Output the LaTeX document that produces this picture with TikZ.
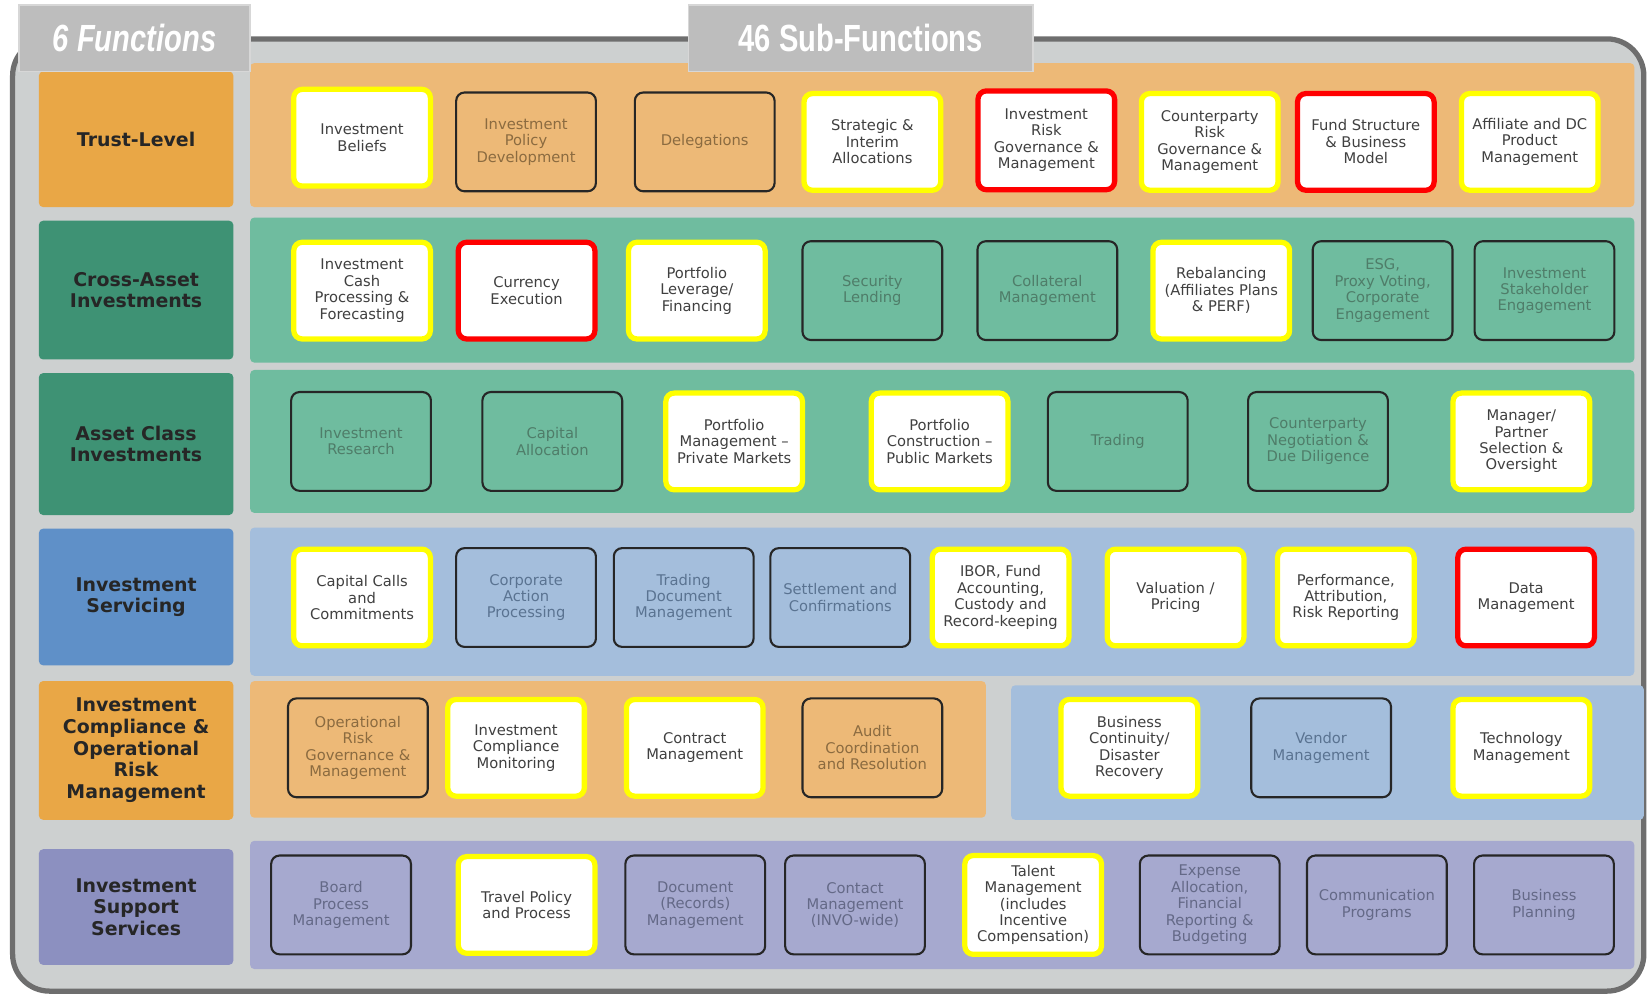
\documentclass[tikz,border=0pt]{standalone}
\usepackage{fontspec}
\setmainfont{DejaVu Sans}
\newfontfamily\tabfont[FakeStretch=0.77]{Liberation Sans}
\usepackage{tikz}
\definecolor{Frame}{HTML}{6E6E6E}
\definecolor{FrameFill}{HTML}{CDD0D0}
\definecolor{Tab}{HTML}{BDBDBD}
\definecolor{OrangeBand}{HTML}{EDB977}
\definecolor{OrangeHead}{HTML}{E9A746}
\definecolor{OrangeInk}{HTML}{8B6B40}
\definecolor{GreenBand}{HTML}{6FBC9F}
\definecolor{GreenHead}{HTML}{3E9274}
\definecolor{GreenInk}{HTML}{4F7D69}
\definecolor{BlueBand}{HTML}{A4BEDC}
\definecolor{BlueHead}{HTML}{5F90C8}
\definecolor{BlueInk}{HTML}{5A7391}
\definecolor{PurpleBand}{HTML}{A6A9CF}
\definecolor{PurpleHead}{HTML}{8C90C0}
\definecolor{PurpleInk}{HTML}{646987}
\definecolor{HiYellow}{HTML}{FFFF00}
\definecolor{HiRed}{HTML}{FF0000}
\definecolor{Ink}{HTML}{404040}
\definecolor{HeadInk}{HTML}{262626}

\begin{document}
\begin{tikzpicture}[x=1pt,y=-1pt,
    head/.style={rounded corners=4pt,inner sep=0pt,minimum width=185pt,align=center,
      font=\fontsize{18}{20.6}\selectfont\bfseries,text=HeadInk},
    sub/.style={rounded corners=8pt,inner sep=0pt,align=center,
      font=\fontsize{14}{15.6}\selectfont},
    keybox/.style={sub,fill=white,draw=HiYellow,line width=5pt,text=Ink,
      minimum width=130pt,minimum height=92pt},
    riskbox/.style={keybox,draw=HiRed},
    idlebox/.style={sub,draw=black!85,line width=2pt,minimum width=133pt,minimum height=94pt},
    orng/.style={idlebox,fill=OrangeBand,text=OrangeInk},
    grn/.style={idlebox,fill=GreenBand,text=GreenInk},
    blu/.style={idlebox,fill=BlueBand,text=BlueInk},
    prpl/.style={idlebox,fill=PurpleBand,text=PurpleInk},
    tabbox/.style={fill=Tab,draw=Tab!60!white,line width=1.5pt,inner sep=0pt,
      text=white,font=\tabfont\fontsize{36}{40}\selectfont\bfseries}]
  \useasboundingbox (0,0) rectangle (1568,946);
  % frame
  \draw[Frame,line width=5pt,fill=FrameFill,rounded corners=35pt] (12,37) rectangle (1564,943);
  % bands
  \fill[OrangeBand,rounded corners=4pt] (238,60) rectangle (1555,197);
  \fill[GreenBand,rounded corners=4pt] (238,207) rectangle (1555,345);
  \fill[GreenBand,rounded corners=4pt] (238,352) rectangle (1555,488);
  \fill[BlueBand,rounded corners=4pt] (238,502) rectangle (1555,643);
  \fill[OrangeBand,rounded corners=4pt] (238,648) rectangle (938,778);
  \fill[BlueBand,rounded corners=4pt] (962,652) rectangle (1564,780);
  \fill[PurpleBand,rounded corners=4pt] (238,800) rectangle (1555,922);
  % functions
  \node[head,fill=OrangeHead,minimum height=129pt] (trust) at (129.5,132.5) {Trust-Level};
  \node[head,fill=GreenHead,minimum height=132pt] (cross) at (129.5,276) {Cross-Asset\\Investments};
  \node[head,fill=GreenHead,minimum height=135pt] (asset) at (129.5,422.5) {Asset Class\\Investments};
  \node[head,fill=BlueHead,minimum height=130pt] (serv) at (129.5,568) {Investment\\Servicing};
  \node[head,fill=OrangeHead,minimum height=132pt] (comp) at (129.5,714) {Investment\\Compliance \&\\Operational\\Risk\\Management};
  \node[head,fill=PurpleHead,minimum height=110pt] (supp) at (129.5,863) {Investment\\Support\\Services};
  % tabs
  \node[tabbox,minimum width=220pt,minimum height=63pt] (tabfun) at (128,36.5) {\itshape 6 Functions};
  \node[tabbox,minimum width=328pt,minimum height=63pt] (tabsub) at (819,36.5) {46 Sub-Functions};
  % trust-level
  \node[keybox] (inv-beliefs) at (344.5,131) {Investment\\Beliefs};
  \node[orng] (inv-policy) at (500.5,135) {Investment\\Policy\\Development};
  \node[orng] (delegations) at (670.5,135) {Delegations};
  \node[keybox] (strategic) at (830,135) {Strategic \&\\Interim\\Allocations};
  \node[riskbox,minimum height=94pt] (inv-risk) at (995.5,133.5) {Investment\\Risk\\Governance \&\\Management};
  \node[keybox] (cp-risk) at (1151,135) {Counterparty\\Risk\\Governance \&\\Management};
  \node[riskbox] (fund) at (1299.5,135) {Fund Structure\\\& Business\\Model};
  \node[keybox] (affiliate) at (1455.5,135) {Affiliate and DC\\Product\\Management};
  % cross-asset
  \node[keybox] (cash) at (344.5,276.5) {Investment\\Cash\\Processing \&\\Forecasting};
  \node[riskbox] (currency) at (501,276.5) {Currency\\Execution};
  \node[keybox] (leverage) at (663,276.5) {Portfolio\\Leverage/\\Financing};
  \node[grn] (seclend) at (830,276.5) {Security\\Lending};
  \node[grn] (collateral) at (996.5,276.5) {Collateral\\Management};
  \node[keybox] (rebal) at (1162,276.5) {Rebalancing\\(Affiliates Plans\\\& PERF)};
  \node[grn] (esg) at (1315.5,276.5) {ESG,\\Proxy Voting,\\Corporate\\Engagement};
  \node[grn] (stake) at (1469.5,276.5) {Investment\\Stakeholder\\Engagement};
  % asset class
  \node[grn] (research) at (343.5,420) {Investment\\Research};
  \node[grn] (capalloc) at (525.5,420) {Capital\\Allocation};
  \node[keybox] (pm-priv) at (698.5,420) {Portfolio\\Management –\\Private Markets};
  \node[keybox] (pc-pub) at (894,420) {Portfolio\\Construction –\\Public Markets};
  \node[grn] (trading) at (1063.5,420) {Trading};
  \node[grn] (cp-neg) at (1254,420) {Counterparty\\Negotiation \&\\Due Diligence};
  \node[keybox] (manager) at (1447.5,420) {Manager/\\Partner\\Selection \&\\Oversight};
  % servicing
  \node[keybox] (capcalls) at (344.5,568.5) {Capital Calls\\and\\Commitments};
  \node[blu] (corpact) at (500.5,568.5) {Corporate\\Action\\Processing};
  \node[blu] (tradedoc) at (650.5,568.5) {Trading\\Document\\Management};
  \node[blu] (settle) at (799.5,568.5) {Settlement and\\Confirmations};
  \node[keybox] (ibor) at (952,568.5) {IBOR, Fund\\Accounting,\\Custody and\\Record-keeping};
  \node[keybox] (valuation) at (1118.5,568.5) {Valuation /\\Pricing};
  \node[keybox] (perf) at (1280.5,568.5) {Performance,\\Attribution,\\Risk Reporting};
  \node[riskbox] (data) at (1452,568.5) {Data\\Management};
  % compliance
  \node[orng] (oprisk) at (340.5,711.5) {Operational\\Risk\\Governance \&\\Management};
  \node[keybox] (compmon) at (491,711.5) {Investment\\Compliance\\Monitoring};
  \node[keybox] (contract) at (661,711.5) {Contract\\Management};
  \node[orng] (audit) at (830,711.5) {Audit\\Coordination\\and Resolution};
  \node[keybox] (bcp) at (1074.5,711.5) {Business\\Continuity/\\Disaster\\Recovery};
  \node[blu] (vendor) at (1257,711.5) {Vendor\\Management};
  \node[keybox] (tech) at (1447.5,711.5) {Technology\\Management};
  % support
  \node[prpl] (board) at (324.5,861) {Board\\Process\\Management};
  \node[keybox] (travel) at (501,861) {Travel Policy\\and Process};
  \node[prpl] (records) at (661.5,861) {Document\\(Records)\\Management};
  \node[prpl] (contact) at (813.5,861) {Contact\\Management\\(INVO-wide)};
  \node[keybox,minimum height=94pt] (talent) at (983,861) {Talent\\Management\\(includes\\Incentive\\Compensation)};
  \node[prpl] (expense) at (1151,861) {Expense\\Allocation,\\Financial\\Reporting \&\\Budgeting};
  \node[prpl] (comms) at (1310,861) {Communication\\Programs};
  \node[prpl] (planning) at (1469,861) {Business\\Planning};
\end{tikzpicture}
\end{document}
